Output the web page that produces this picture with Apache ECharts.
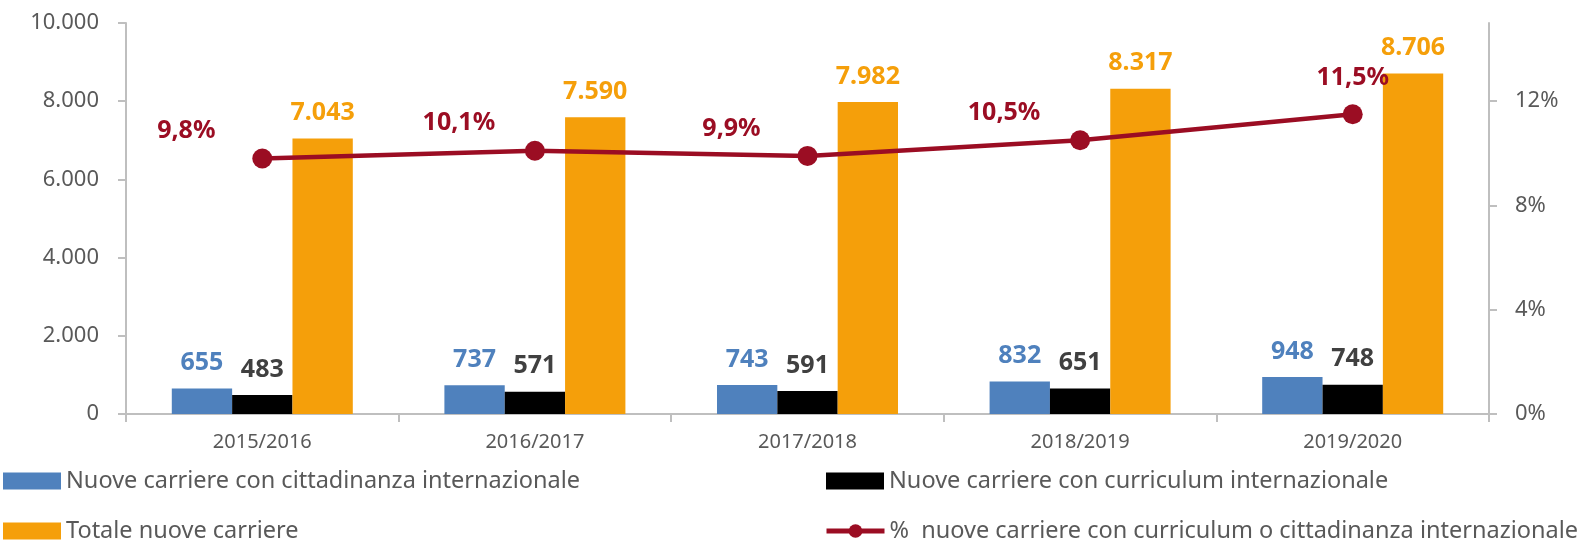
<!DOCTYPE html>
<html>
<head>
<meta charset="utf-8">
<script src="https://cdn.jsdelivr.net/npm/echarts@6/dist/echarts.min.js"></script>
<style>
  html, body { margin: 0; padding: 0; background: #fff; }
  #chart { width: 1590px; height: 542px; }
</style>
</head>
<body>
<div id="chart"></div>
<script>
// dati
const years = ['2015/2016', '2016/2017', '2017/2018', '2018/2019', '2019/2020']
const cittadinanza = [655, 737, 743, 832, 948]
const curriculum = [483, 571, 591, 651, 748]
const totale = [7043, 7590, 7982, 8317, 8706]
const percentuale = [9.8, 10.1, 9.9, 10.5, 11.5]
const leftTicks = [0, 2000, 4000, 6000, 8000, 10000]
const rightTicks = [0, 4, 8, 12]

const names = [
  'Nuove carriere con cittadinanza internazionale',
  'Nuove carriere con curriculum internazionale',
  'Totale nuove carriere',
  '%  nuove carriere con curriculum o cittadinanza internazionale'
]

const FONT = 'Noto Sans'
const GRAY = '#595959'
const AXIS = '#BFBFBF'
const BLUE = '#4F81BD'
const ORANGE = '#F59F0A'
const RED = '#9B0D23'

const fmtThousands = v => String(v).replace(/\B(?=(\d{3})+(?!\d))/g, '.')

const chart = echarts.init(document.getElementById('chart'))

function barLabel(color) {
  return {
    show: true,
    position: 'top',
    distance: 13,
    color: color,
    fontFamily: FONT,
    fontWeight: 'bold',
    fontSize: 25,
    formatter: p => fmtThousands(p.value)
  }
}

// una legenda per voce, per posizionarle come nell'originale
function legendItem(name, left, top, icon) {
  const item = { name: name }
  if (icon) item.icon = icon
  return {
    left: left,
    top: top,
    padding: 0,
    itemWidth: 58,
    itemHeight: 17,
    itemGap: 0,
    lineStyle: { width: 5 },
    textStyle: { color: GRAY, fontSize: 23.5, fontFamily: FONT },
    data: [item]
  }
}

const option = {
  animation: false,
  textStyle: { fontFamily: FONT },
  grid: { left: 126, right: 101, top: 23, bottom: 128 },
  legend: [
    legendItem(names[0], 3, 469, 'rect'),
    legendItem(names[2], 3, 519, 'rect'),
    legendItem(names[1], 826, 469, 'rect'),
    legendItem(names[3], 824, 519)
  ],
  xAxis: {
    type: 'category',
    data: years,
    axisLine: { lineStyle: { color: AXIS, width: 2 } },
    axisTick: { show: true, length: 8, lineStyle: { color: AXIS, width: 2 } },
    axisLabel: { color: GRAY, fontSize: 20, margin: 18, fontFamily: FONT }
  },
  yAxis: [
    {
      type: 'value',
      min: 0,
      max: 10000,
      interval: 2000,
      splitLine: { show: false },
      axisLine: { show: true, lineStyle: { color: AXIS, width: 2 } },
      axisTick: { show: true, length: 8, lineStyle: { color: AXIS, width: 2 }, customValues: leftTicks },
      axisLabel: { color: GRAY, fontSize: 22, margin: 27, fontFamily: FONT, formatter: fmtThousands, customValues: leftTicks }
    },
    {
      type: 'value',
      min: 0,
      max: 15,
      interval: 4,
      position: 'right',
      splitLine: { show: false },
      axisLine: { show: true, lineStyle: { color: AXIS, width: 2 } },
      axisTick: { show: true, length: 8, lineStyle: { color: AXIS, width: 2 }, customValues: rightTicks },
      axisLabel: { color: GRAY, fontSize: 22, margin: 26, fontFamily: FONT, formatter: '{value}%', customValues: rightTicks }
    }
  ],
  series: [
    {
      name: names[0],
      type: 'bar',
      data: cittadinanza,
      barGap: '0%',
      barCategoryGap: '33.6%',
      itemStyle: { color: BLUE },
      label: barLabel(BLUE)
    },
    {
      name: names[1],
      type: 'bar',
      data: curriculum,
      barGap: '0%',
      barCategoryGap: '33.6%',
      itemStyle: { color: '#000000' },
      label: barLabel('#404040')
    },
    {
      name: names[2],
      type: 'bar',
      data: totale,
      barGap: '0%',
      barCategoryGap: '33.6%',
      itemStyle: { color: ORANGE },
      label: barLabel(ORANGE)
    },
    {
      name: names[3],
      type: 'line',
      yAxisIndex: 1,
      symbol: 'circle',
      symbolSize: 20,
      lineStyle: { color: RED, width: 4.5 },
      itemStyle: { color: RED },
      label: {
        show: true,
        position: 'top',
        distance: 5,
        color: RED,
        fontFamily: FONT,
        fontWeight: 'bold',
        fontSize: 25,
        formatter: p => String(p.value).replace('.', ',') + '%'
      },
      data: percentuale.map((v, i) => ({
        value: v,
        label: { offset: i === percentuale.length - 1 ? [0, -9] : [-76, 0] }
      }))
    }
  ]
}

chart.setOption(option)
</script>
</body>
</html>
